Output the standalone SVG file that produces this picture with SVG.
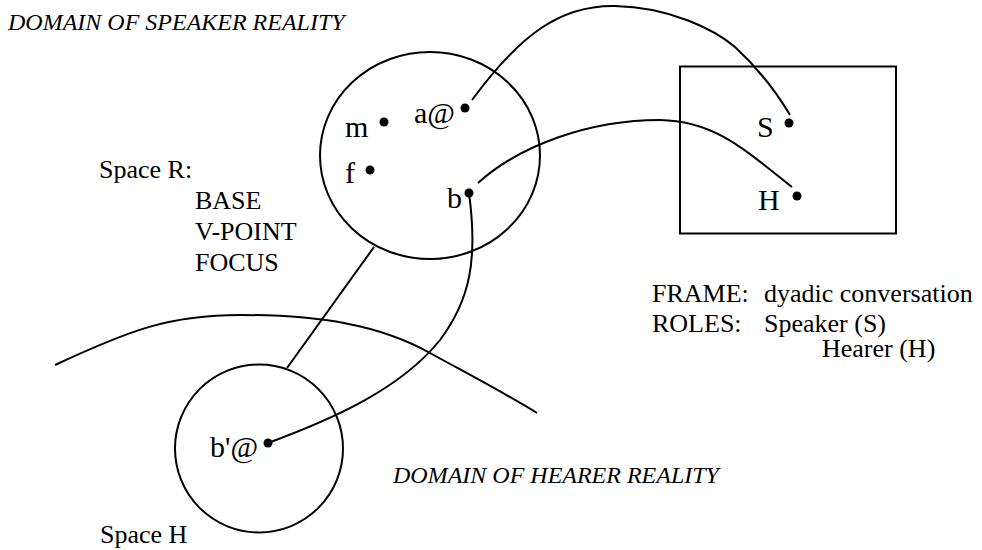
<svg xmlns="http://www.w3.org/2000/svg" width="982" height="550" viewBox="0 0 982 550">
<style>
.ln{fill:none;stroke:#000;stroke-width:2}
text{font-family:'Liberation Serif','Times New Roman',Tinos,Times,'DejaVu Serif',serif;fill:#000}
.t{font-size:26px}
.it{font-size:24px;font-style:italic}
.big{font-size:30px}
.dot{fill:#000}
</style>
<rect width="982" height="550" fill="#fff"/>
<g id="labels">
<text class="it" x="8" y="30">DOMAIN OF SPEAKER REALITY</text>
<text class="it" x="393" y="483">DOMAIN OF HEARER REALITY</text>
<path id="horizon" class="ln" d="M55,365 C130,330 170,315 240,315 C320,315 380,325 430,353 C470,375 510,396 537,413"/>
</g>
<g id="spaceR">
<ellipse class="ln" cx="430" cy="155.5" rx="110" ry="103.5"/>
<text class="t" x="99" y="178">Space R:</text>
<text class="t" x="195" y="209">BASE</text>
<text class="t" x="195" y="240">V-POINT</text>
<text class="t" x="195" y="271">FOCUS</text>
</g>
<g id="node-m"><text class="big" x="345" y="137">m</text><circle class="dot" cx="384" cy="122" r="4.5"/></g>
<g id="node-a"><text class="big" x="414" y="123">a@</text><circle class="dot" cx="465" cy="108" r="4.5"/></g>
<g id="node-f"><text class="big" x="345" y="183">f</text><circle class="dot" cx="370" cy="170" r="4.5"/></g>
<g id="node-b"><text class="big" x="447" y="208">b</text><circle class="dot" cx="469" cy="193" r="4.5"/></g>
<g id="frame">
<rect class="ln" x="680" y="66.5" width="216" height="167"/>
<text class="t" x="652" y="302">FRAME:</text>
<text class="t" x="764" y="302">dyadic conversation</text>
<text class="t" x="652" y="332">ROLES:</text>
<text class="t" x="764" y="332">Speaker (S)</text>
<text class="t" x="822" y="357">Hearer (H)</text>
</g>
<g id="node-S"><text class="big" x="757" y="137">S</text><circle class="dot" cx="789" cy="123" r="4.5"/></g>
<g id="node-H"><text class="big" x="758" y="210">H</text><circle class="dot" cx="797" cy="196" r="4.5"/></g>
<g id="spaceH">
<circle class="ln" cx="259" cy="448.5" r="84"/>
<text class="t" x="100" y="543">Space H</text>
</g>
<g id="node-b2"><text class="big" x="210" y="457">b'@</text><circle class="dot" cx="268" cy="443" r="4.5"/></g>
<g id="connectors">
<path class="ln" d="M472,100 C520,35 560,5 615,6 C670,7 715,30 735,47 C760,70 778,95 790,115"/>
<path class="ln" d="M478,183 C520,145 590,120 660,120 C715,121 745,150 792,187"/>
<path class="ln" d="M469,193 C478,260 470,300 440,340 C400,390 330,420 268,443"/>
<path class="ln" d="M287,368 L374,247"/>
</g>
</svg>
